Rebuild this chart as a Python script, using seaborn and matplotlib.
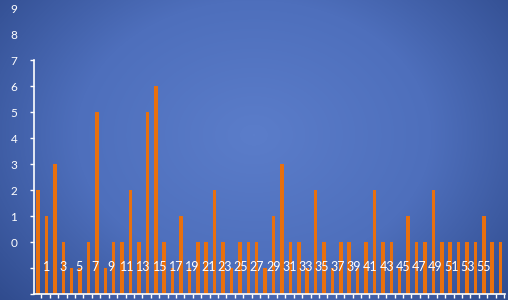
import numpy as np
import pandas as pd
import matplotlib
matplotlib.use("Agg")
import matplotlib.pyplot as plt
from matplotlib.colors import LinearSegmentedColormap
import seaborn as sns

# values as read against the printed y labels (bars start at the axis floor)
bar_ids = list(range(1, 57))
counts = [2, 1, 3, 0, -1, -1, 0, 5, -1, 0,
          0, 2, 0, 5, 6, 0, -1, 1, -1, 0,
          0, 2, 0, -1, 0, 0, 0, -1, 1, 3,
          0, 0, -1, 2, 0, -1, 0, 0, -1, 0,
          2, 0, 0, -1, 1, 0, 0, 2, 0, 0,
          0, 0, 0, 1, 0, 0]
base = -2
x_labels = [str(n) for n in range(1, 56, 2)]
y_labels = [str(n) for n in range(0, 10)]

sns.set_style("ticks")
plt.rcParams['font.family'] = ['Lato', 'DejaVu Sans']

fig = plt.figure(figsize=(5.08, 3.0), dpi=100)

# blue background, lighter in the middle
bg = fig.add_axes([0, 0, 1, 1], zorder=0)
yy, xx = np.mgrid[0:1:300j, 0:1:508j]
r = np.sqrt(((xx - 0.5) / 0.7) ** 2 + ((yy - 0.45) / 0.9) ** 2)
cmap = LinearSegmentedColormap.from_list("bg", ["#5b7dca", "#4e6fbc", "#2c4788"])
bg.imshow(np.clip(r, 0, 1), cmap=cmap, aspect="auto", vmin=0, vmax=1)
bg.axis("off")

ax = fig.add_axes([34 / 508, 6 / 300, 471 / 508, 294 / 300], zorder=1)
ax.patch.set_alpha(0)
ax.set_axisbelow(False)  # labels sit on top of the bars

df = pd.DataFrame({"bar": bar_ids, "height": np.array(counts) - base})
sns.barplot(data=df, x="bar", y="height", color="#e8700e", saturation=1,
            width=0.42, bottom=base, linewidth=0, ax=ax)

ax.set_xlim(-0.48, 55.52)
ax.set_ylim(base, 9.31)
ax.set_xlabel("")
ax.set_ylabel("")

sns.despine(ax=ax)
ax.spines['left'].set_bounds(base, 7)
for s in ['left', 'bottom']:
    ax.spines[s].set_color('white')
    ax.spines[s].set_linewidth(1.2)

ax.set_yticks(range(10), y_labels)
ax.set_yticks([-2, -1], minor=True)
for t in ax.yaxis.get_major_ticks()[8:]:
    t.tick1line.set_visible(False)
ax.tick_params(axis='y', which='both', colors='white', direction='out',
               length=3, width=1, labelsize=8.5, pad=9)

ax.set_xticks(np.linspace(1, 53, 28), x_labels)
ax.set_xticks(np.arange(56) + 0.4, minor=True)
ax.tick_params(axis='x', which='major', length=0, pad=-24, labelsize=9,
               labelcolor='white')
ax.tick_params(axis='x', which='minor', length=3, width=1, color='white',
               direction='out')

fig.savefig("out.png", dpi=100)
